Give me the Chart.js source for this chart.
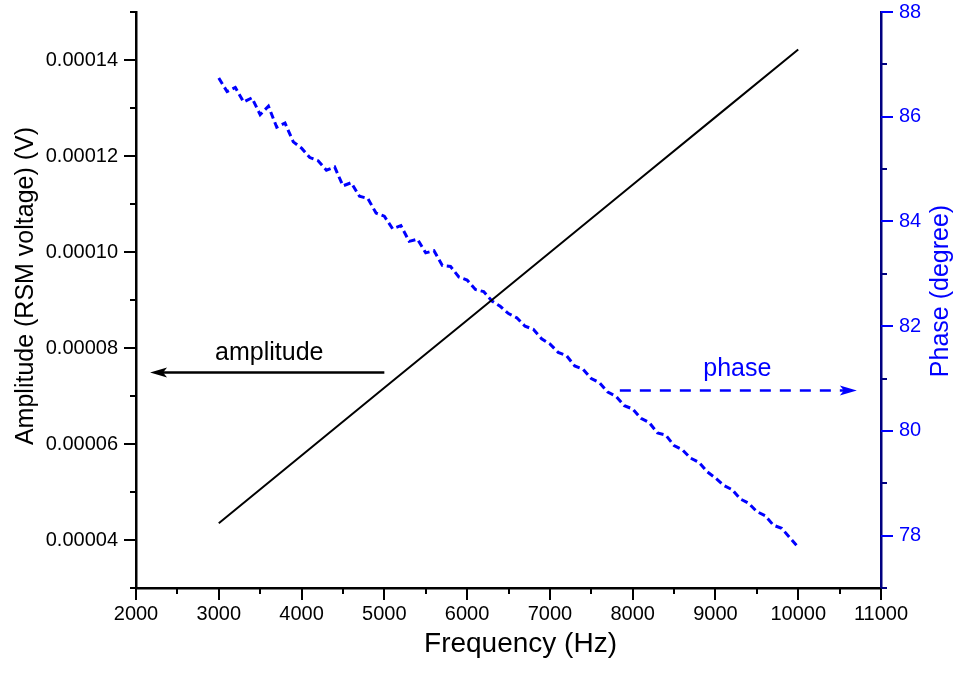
<!DOCTYPE html>
<html>
<head>
<meta charset="utf-8">
<title>Amplitude and phase vs frequency</title>
<script src="https://cdn.jsdelivr.net/npm/chart.js@4.4.1/dist/chart.umd.min.js"></script>
<style>
  html, body { margin: 0; padding: 0; background: #fff; }
  #chart { display: block; }
</style>
</head>
<body>
<canvas id="chart" width="961" height="681"></canvas>
<script>
// Amplitude (left axis) and phase (right axis) of a frequency sweep

// Amplitude series
const ampFreq = [3000, 4000, 5000, 6000, 7000, 8000, 9000, 10000];
const ampValues = [0.0000435, 0.0000576, 0.0000717, 0.0000858, 0.0000999, 0.000114, 0.0001281, 0.0001422];

// Phase series (noisy, dashed)
const phaseFreq = [
  3000, 3100, 3200, 3300, 3400, 3500, 3600, 3700, 3800, 3900,
  4000, 4100, 4200, 4300, 4400, 4500, 4600, 4700, 4800, 4900,
  5000, 5100, 5200, 5300, 5400, 5500, 5600, 5700, 5800, 5900,
  6000, 6100, 6200, 6300, 6400, 6500, 6600, 6700, 6800, 6900,
  7000, 7100, 7200, 7300, 7400, 7500, 7600, 7700, 7800, 7900,
  8000, 8100, 8200, 8300, 8400, 8500, 8600, 8700, 8800, 8900,
  9000, 9100, 9200, 9300, 9400, 9500, 9600, 9700, 9800, 9900,
  10000
];
const phaseValues = [
  86.74, 86.48, 86.56, 86.28, 86.36, 86.04, 86.20, 85.80, 85.88, 85.52,
  85.40, 85.22, 85.16, 84.98, 85.04, 84.68, 84.74, 84.48, 84.44, 84.16,
  84.10, 83.86, 83.92, 83.62, 83.66, 83.40, 83.44, 83.16, 83.14, 82.94,
  82.88, 82.70, 82.66, 82.48, 82.38, 82.24, 82.16, 82.00, 81.94, 81.76,
  81.66, 81.50, 81.44, 81.24, 81.18, 81.00, 80.92, 80.74, 80.66, 80.48,
  80.42, 80.24, 80.16, 79.96, 79.92, 79.72, 79.64, 79.48, 79.40, 79.22,
  79.10, 78.96, 78.88, 78.70, 78.62, 78.46, 78.38, 78.20, 78.14, 77.96,
  77.78
];

// Tick values
const xTicks = [2000, 3000, 4000, 5000, 6000, 7000, 8000, 9000, 10000, 11000];
const xMinorTicks = [2500, 3500, 4500, 5500, 6500, 7500, 8500, 9500, 10500];
const ampTicks = [0.00004, 0.00006, 0.00008, 0.00010, 0.00012, 0.00014];
const ampMinorTicks = [0.00003, 0.00005, 0.00007, 0.00009, 0.00011, 0.00013, 0.00015];
const phaseTicks = [78, 80, 82, 84, 86, 88];
const phaseMinorTicks = [77, 79, 81, 83, 85, 87];

// Labels with arrows, placed in data units
const notes = [
  { text: 'amplitude', axis: 'y', textX: 3610, textY: 0.0000776, from: 5000, to: 2170, arrowY: 0.0000749, color: '#000000', dash: [] },
  { text: 'phase', axis: 'y2', textX: 9264, textY: 81.05, from: 7845, to: 10708, arrowY: 80.77, color: '#0000ff', dash: [11, 9] }
];

const FONT = '"Liberation Sans", Arial, sans-serif';
const BLUE = '#0000ff';
const NAVY = '#000080';

Chart.defaults.font.family = FONT;

function drawTickMarks(ctx, scale, values, len, color, side) {
  ctx.save();
  ctx.strokeStyle = color;
  ctx.lineWidth = 2;
  ctx.beginPath();
  values.forEach(v => {
    const p = Math.round(scale.getPixelForValue(v));
    if (side === 'bottom') {
      ctx.moveTo(p, scale.top);
      ctx.lineTo(p, scale.top + len);
    } else if (side === 'left') {
      ctx.moveTo(scale.right, p);
      ctx.lineTo(scale.right - len, p);
    } else {
      ctx.moveTo(scale.left, p);
      ctx.lineTo(scale.left + len, p);
    }
  });
  ctx.stroke();
  ctx.restore();
}

function drawArrow(ctx, x1, x2, y, color, dash) {
  const dir = Math.sign(x2 - x1);
  ctx.save();
  ctx.strokeStyle = color;
  ctx.fillStyle = color;
  ctx.lineWidth = 2.5;
  ctx.setLineDash(dash);
  ctx.beginPath();
  ctx.moveTo(x1, y);
  ctx.lineTo(x2 - dir * 12, y);
  ctx.stroke();
  ctx.setLineDash([]);
  ctx.beginPath();
  ctx.moveTo(x2, y);
  ctx.lineTo(x2 - dir * 17, y - 5);
  ctx.lineTo(x2 - dir * 13, y);
  ctx.lineTo(x2 - dir * 17, y + 5);
  ctx.closePath();
  ctx.fill();
  ctx.restore();
}

function drawRotated(ctx, text, x, y, font, color) {
  ctx.save();
  ctx.translate(x, y);
  ctx.rotate(-Math.PI / 2);
  ctx.font = font;
  ctx.fillStyle = color;
  ctx.textAlign = 'center';
  ctx.textBaseline = 'middle';
  ctx.fillText(text, 0, 0);
  ctx.restore();
}

const decorations = {
  id: 'decorations',
  afterDraw(chart) {
    const { ctx, scales } = chart;
    const area = chart.chartArea;

    drawTickMarks(ctx, scales.x, xTicks, 12, '#000', 'bottom');
    drawTickMarks(ctx, scales.x, xMinorTicks, 6, '#000', 'bottom');
    drawTickMarks(ctx, scales.y, ampTicks, 12, '#000', 'left');
    drawTickMarks(ctx, scales.y, ampMinorTicks, 6, '#000', 'left');
    drawTickMarks(ctx, scales.y2, phaseTicks, 12, BLUE, 'right');
    drawTickMarks(ctx, scales.y2, phaseMinorTicks, 6, NAVY, 'right');

    notes.forEach(n => {
      const ys = scales[n.axis];
      const y = ys.getPixelForValue(n.arrowY);
      drawArrow(ctx, scales.x.getPixelForValue(n.from), scales.x.getPixelForValue(n.to), y, n.color, n.dash);
      ctx.save();
      ctx.font = '25px ' + FONT;
      ctx.fillStyle = n.color;
      ctx.textAlign = 'center';
      ctx.textBaseline = 'alphabetic';
      ctx.fillText(n.text, scales.x.getPixelForValue(n.textX), ys.getPixelForValue(n.textY));
      ctx.restore();
    });

    // axis titles
    drawRotated(ctx, 'Amplitude (RSM voltage) (V)', 26, 286, '25px ' + FONT, '#000');
    drawRotated(ctx, 'Phase (degree)', 941, 291, '25px ' + FONT, BLUE);
    ctx.save();
    ctx.font = '28px ' + FONT;
    ctx.fillStyle = '#000';
    ctx.textAlign = 'center';
    ctx.textBaseline = 'middle';
    ctx.fillText('Frequency (Hz)', (area.left + area.right) / 2 + 12, 644);
    ctx.restore();
  }
};

// fixed axis sizes so the plot area sits where the reference has it
function fixVertical(width) {
  return s => {
    s.width = width;
    s.paddingTop = 0;
    s.paddingBottom = 0;
  };
}

const tickFont = { size: 20 };

new Chart(document.getElementById('chart'), {
  type: 'line',
  data: {
    datasets: [
      {
        label: 'amplitude',
        data: ampFreq.map((f, i) => ({ x: f, y: ampValues[i] })),
        yAxisID: 'y',
        borderColor: '#000000',
        borderWidth: 2,
        pointRadius: 0,
        tension: 0
      },
      {
        label: 'phase',
        data: phaseFreq.map((f, i) => ({ x: f, y: phaseValues[i] })),
        yAxisID: 'y2',
        borderColor: BLUE,
        borderWidth: 3,
        borderDash: [7, 4],
        pointRadius: 0,
        tension: 0
      }
    ]
  },
  options: {
    responsive: false,
    animation: false,
    devicePixelRatio: 1,
    layout: { padding: { top: 12, left: 0, right: 0, bottom: 0 } },
    plugins: {
      legend: { display: false },
      tooltip: { enabled: false }
    },
    scales: {
      x: {
        type: 'linear',
        position: 'bottom',
        min: 2000,
        max: 11000,
        afterBuildTicks: s => { s.ticks = xTicks.map(v => ({ value: v })); },
        afterFit: s => { s.height = 93; s.paddingLeft = 0; s.paddingRight = 0; },
        ticks: { font: tickFont, color: '#000', padding: 14, maxRotation: 0, autoSkip: false, callback: v => String(v) },
        grid: { display: false, drawTicks: false },
        border: { display: true, color: '#000', width: 2.5 }
      },
      y: {
        type: 'linear',
        position: 'left',
        min: 0.00003,
        max: 0.00015,
        afterBuildTicks: s => { s.ticks = ampTicks.map(v => ({ value: v })); },
        afterFit: fixVertical(136),
        ticks: { font: tickFont, color: '#000', padding: 18, autoSkip: false, callback: v => v.toFixed(5) },
        grid: { display: false, drawTicks: false },
        border: { display: true, color: '#000', width: 2.5 }
      },
      y2: {
        type: 'linear',
        position: 'right',
        min: 77,
        max: 88,
        afterBuildTicks: s => { s.ticks = phaseTicks.map(v => ({ value: v })); },
        afterFit: fixVertical(80),
        ticks: { font: tickFont, color: BLUE, padding: 18, autoSkip: false, callback: v => String(v) },
        grid: { display: false, drawTicks: false },
        border: { display: true, color: NAVY, width: 2.5 }
      }
    }
  },
  plugins: [decorations]
});
</script>
</body>
</html>
